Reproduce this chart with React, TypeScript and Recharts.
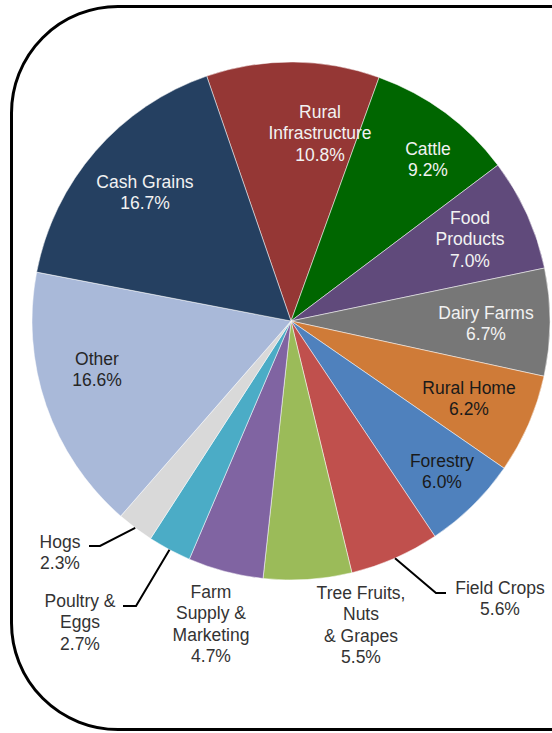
import { PieChart, Pie, Cell } from 'recharts'

// farm credit portfolio shares, clockwise from the top
const categories = [
  'Rural\nInfrastructure',
  'Cattle',
  'Food\nProducts',
  'Dairy Farms',
  'Rural Home',
  'Forestry',
  'Field Crops',
  'Tree Fruits,\nNuts\n& Grapes',
  'Farm\nSupply &\nMarketing',
  'Poultry &\nEggs',
  'Hogs',
  'Other',
  'Cash Grains',
]
const shares = [10.8, 9.2, 7.0, 6.7, 6.2, 6.0, 5.6, 5.5, 4.7, 2.7, 2.3, 16.6, 16.7]

const SLICE_COLORS = [
  '#953735',
  '#006600',
  '#604a7b',
  '#777777',
  '#cf7b38',
  '#4f81bd',
  '#c0504d',
  '#9bbb59',
  '#8064a2',
  '#4bacc6',
  '#d9d9d9',
  '#a9b9d9',
  '#254061',
]

const TEXT_COLORS = [
  '#f2f2f2', '#f2f2f2', '#f2f2f2', '#f2f2f2', '#1a1a1a', '#1a1a1a',
  '#333333', '#333333', '#333333', '#333333', '#333333', '#262626', '#f2f2f2',
]

// label anchor (centre of first line) relative to the pie centre
const LABEL_LAYOUT: Array<{ dx: number; dy: number; elbow?: [number, number]; end?: [number, number] }> = [
  { dx: 29, dy: -209 },
  { dx: 137, dy: -172 },
  { dx: 179, dy: -103 },
  { dx: 195, dy: -8 },
  { dx: 178, dy: 67 },
  { dx: 151, dy: 140 },
  { dx: 209, dy: 267, elbow: [145, 272], end: [155, 272] },
  { dx: 70, dy: 272 },
  { dx: -80, dy: 271 },
  { dx: -211, dy: 280, elbow: [-155, 285], end: [-168, 285] },
  { dx: -231, dy: 221, elbow: [-191, 225], end: [-202, 225] },
  { dx: -194, dy: 38 },
  { dx: -146, dy: -139 },
]

const data = categories.map((name, i) => ({ name, value: shares[i] }))

const CX = 291
const CY = 321
const R = 259
const LINE_H = 21.3
const RAD = Math.PI / 180

function renderLabel(props: any) {
  const { index, midAngle } = props
  const cx = props.cx ?? CX
  const cy = props.cy ?? CY
  const outerRadius = props.outerRadius ?? R
  const layout = LABEL_LAYOUT[index]
  const lines = [...categories[index].split('\n'), shares[index].toFixed(1) + '%']
  const x = cx + layout.dx
  const y = cy + layout.dy

  let leader = null
  if (layout.elbow && layout.end) {
    const sx = cx + outerRadius * Math.cos(-midAngle * RAD)
    const sy = cy + outerRadius * Math.sin(-midAngle * RAD)
    const pts = [
      [sx, sy],
      [cx + layout.elbow[0], cy + layout.elbow[1]],
      [cx + layout.end[0], cy + layout.end[1]],
    ]
    leader = (
      <polyline
        points={pts.map((p) => p.join(',')).join(' ')}
        fill="none"
        stroke="#000"
        strokeWidth={2}
      />
    )
  }

  return (
    <g key={`lbl-${index}`}>
      {leader}
      <text
        x={x}
        y={y}
        textAnchor="middle"
        dominantBaseline="central"
        fill={TEXT_COLORS[index]}
        style={{ fontFamily: '"Liberation Sans", Arial, sans-serif', fontSize: 17.5 }}
      >
        {lines.map((line, li) => (
          <tspan key={li} x={x} dy={li === 0 ? 0 : LINE_H}>
            {line}
          </tspan>
        ))}
      </text>
    </g>
  )
}

export default function App() {
  return (
    <div
      style={{
        position: 'absolute',
        left: 0,
        top: 0,
        width: 552,
        height: 733,
        overflow: 'hidden',
        background: '#fff',
      }}
    >
      <div
        style={{
          position: 'absolute',
          left: 10,
          top: 5,
          width: 640,
          height: 720,
          border: '3px solid #000',
          borderRadius: 108,
        }}
      />
      <div style={{ position: 'absolute', left: 0, top: 0 }}>
        <PieChart width={552} height={733} margin={{ top: 0, right: 0, bottom: 0, left: 0 }}>
          <Pie
            data={data}
            dataKey="value"
            nameKey="name"
            cx={CX}
            cy={CY}
            outerRadius={R}
            startAngle={109}
            endAngle={-251}
            stroke="#ffffff"
            strokeWidth={0.5}
            label={renderLabel}
            labelLine={false}
            isAnimationActive={false}
          >
            {data.map((_, i) => (
              <Cell key={`cell-${i}`} fill={SLICE_COLORS[i]} />
            ))}
          </Pie>
        </PieChart>
      </div>
    </div>
  )
}
